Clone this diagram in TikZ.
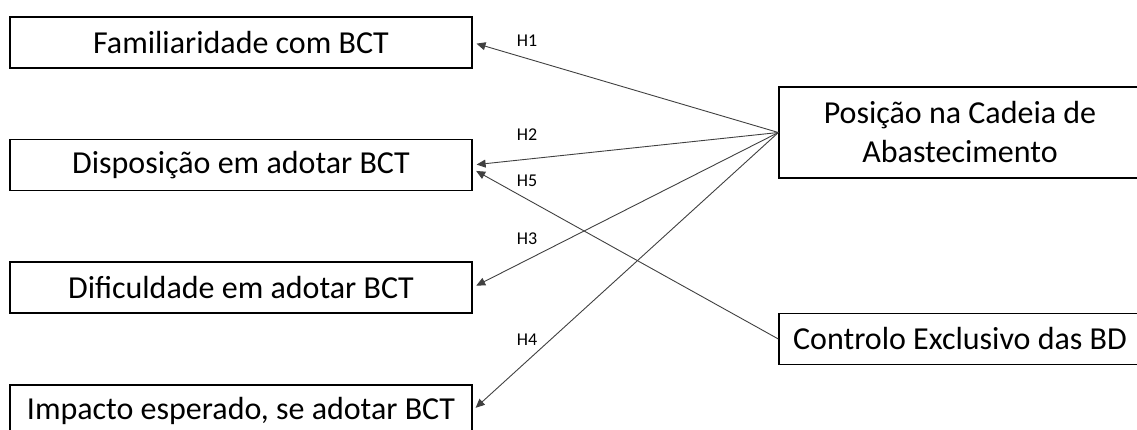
\documentclass[tikz,border=0pt]{standalone}
\usepackage{fontspec}
\setmainfont{Carlito}
\usetikzlibrary{positioning,arrows.meta}

\begin{document}
\begin{tikzpicture}[x=1pt,y=-1pt,
    box/.style={draw,line width=1.3pt,minimum width=462pt,minimum height=51pt,inner sep=0pt,font=\fontsize{32}{39}\selectfont},
    rbox/.style={box,minimum width=362pt,align=center},
    hyp/.style={draw=black!75,line width=0.9pt,-{Triangle[length=9pt,width=8pt]},shorten >=4pt},
    hlab/.style={font=\fontsize{18}{20}\selectfont}]
    \useasboundingbox (0,0) rectangle (1137,430);

    % Dependent constructs
    \node[box] (fam) at (241,42.5) {Familiaridade com BCT};
    \node[box] (disp) at (241,165) {Disposição em adotar BCT};
    \node[box] (dif) at (241,287.5) {Dificuldade em adotar BCT};
    \node[box] (imp) at (241,410.5) {Impacto esperado, se adotar BCT};

    % Independent constructs
    \node[rbox,minimum height=91pt] (pos) at (960,132.5) {Posição na Cadeia de\\Abastecimento};
    \node[rbox] (ctrl) at (960,339) {Controlo Exclusivo das BD};

    % Hypotheses
    \draw[hyp] (pos.west) -- (fam.east);
    \draw[hyp] (pos.west) -- (disp.east);
    \draw[hyp] (pos.west) -- (dif.east);
    \draw[hyp] (pos.west) -- (imp.east);
    \draw[hyp] (ctrl.west) -- ([yshift=-4pt]disp.east);

    \node[hlab] (h1) at (527,41) {H1};
    \node[hlab] (h2) at (527,135) {H2};
    \node[hlab] (h5) at (527,181) {H5};
    \node[hlab] (h3) at (527,239) {H3};
    \node[hlab] (h4) at (527,340) {H4};
\end{tikzpicture}
\end{document}
